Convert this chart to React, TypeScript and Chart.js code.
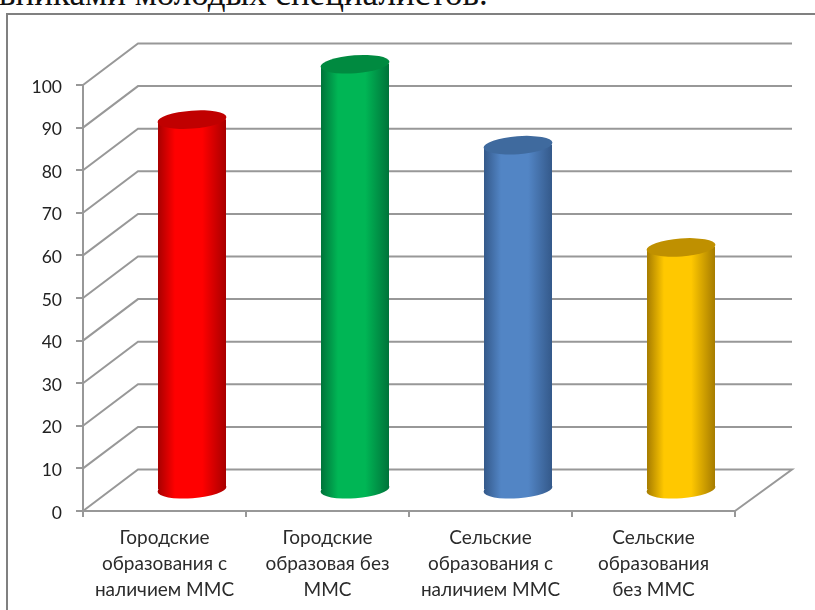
import React, { useEffect, useRef } from "react";
import { Chart, registerables } from "chart.js";

Chart.register(...registerables);

const categories = [
  ["Городские", "образования с", "наличием ММС"],
  ["Городские", "образовая без", "ММС"],
  ["Сельские", "образования с", "наличием ММС"],
  ["Сельские", "образования", "без ММС"],
];
const values = [87, 100, 81, 57];
const centerColors = ["#ff0000", "#00b655", "#5285c5", "#ffc800"];
const edgeColors = ["#a80000", "#00733a", "#34598a", "#a67c00"];
const capColors = ["#c00000", "#008a40", "#3f6a9e", "#bf9000"];
const headingText = "вниками молодых специалистов.";

const DEPTH_X = 55;
const DEPTH_X_RIGHT = 57;
const DEPTH_Y = 41.5;
const TILT = -0.075;
const RY = 9;
const GRID = "#989898";
const FONT = "Lato, Carlito, sans-serif";

function ellipse(ctx: CanvasRenderingContext2D, x: number, y: number, rx: number, fill: any) {
  ctx.beginPath();
  ctx.ellipse(x, y, rx, RY, TILT, 0, Math.PI * 2);
  ctx.fillStyle = fill;
  ctx.fill();
}

function barGradient(ctx: CanvasRenderingContext2D, x: number, w: number, i: number) {
  const g = ctx.createLinearGradient(x - w / 2, 0, x + w / 2, 0);
  g.addColorStop(0, edgeColors[i]);
  g.addColorStop(0.25, centerColors[i]);
  g.addColorStop(0.65, centerColors[i]);
  g.addColorStop(1, edgeColors[i]);
  return g;
}

const wall3d = {
  id: "wall3d",
  beforeDatasetsDraw(chart: any) {
    const { ctx, scales, chartArea } = chart;
    const y = scales.y;
    ctx.save();
    ctx.strokeStyle = GRID;
    ctx.lineWidth = 2;
    y.ticks.forEach((t: any, idx: number) => {
      const py = y.getPixelForValue(t.value);
      ctx.beginPath();
      ctx.moveTo(chartArea.left, py);
      ctx.lineTo(chartArea.left + DEPTH_X, py - DEPTH_Y);
      ctx.lineTo(chartArea.right + DEPTH_X_RIGHT, py - DEPTH_Y);
      if (idx === 0) ctx.lineTo(chartArea.right, py);
      ctx.stroke();
    });
    ctx.restore();

    // bars stand half-way into the floor
    const meta = chart.getDatasetMeta(0);
    ctx.save();
    ctx.translate(DEPTH_X / 2, -DEPTH_Y / 2);
    const dy = Math.tan(-TILT);
    meta.data.forEach((el: any, i: number) => {
      const w = el.width;
      ellipse(ctx, el.x, el.base, w / 2 + 0.5, barGradient(ctx, el.x, w, i));
    });
    ctx.beginPath();
    meta.data.forEach((el: any) => {
      const h = (el.width / 2) * dy;
      const l = el.x - el.width / 2;
      const r = el.x + el.width / 2;
      ctx.moveTo(l, el.y + h);
      ctx.lineTo(r, el.y - h);
      ctx.lineTo(r, el.base - h);
      ctx.lineTo(l, el.base + h);
      ctx.closePath();
    });
    ctx.clip();
  },
  afterDatasetsDraw(chart: any) {
    const { ctx } = chart;
    ctx.restore();
    const meta = chart.getDatasetMeta(0);
    ctx.save();
    ctx.translate(DEPTH_X / 2, -DEPTH_Y / 2);
    meta.data.forEach((el: any, i: number) => {
      ellipse(ctx, el.x, el.y, el.width / 2 + 0.5, capColors[i]);
    });
    ctx.restore();
  },
};

export default function App() {
  const ref = useRef<HTMLCanvasElement>(null);
  useEffect(() => {
    const chart = new Chart(ref.current!, {
      type: "bar",
      plugins: [wall3d],
      data: {
        labels: categories,
        datasets: [
          {
            data: values,
            barThickness: 68,
            borderWidth: 0,
            backgroundColor: (c: any) => {
              const ch = c.chart;
              if (!ch.chartArea || c.dataIndex === undefined) return centerColors[0];
              const x = ch.scales.x.getPixelForValue(c.dataIndex);
              return barGradient(ch.ctx, x, 68, c.dataIndex);
            },
          },
        ],
      },
      options: {
        responsive: false,
        animation: false,
        events: [],
        clip: false,
        layout: { padding: { left: 0, top: 85, right: 80, bottom: 0 } },
        plugins: { legend: { display: false }, tooltip: { enabled: false }, title: { display: false } },
        scales: {
          x: {
            offset: true,
            afterFit: (s: any) => {
              s.height = 99;
            },
            grid: { offset: true, drawOnChartArea: false, drawTicks: true, tickLength: 6, color: GRID, lineWidth: 2 },
            border: { color: GRID, width: 2 },
            ticks: { color: "#2b2b2b", font: { family: FONT, size: 19, lineHeight: 1.36 }, padding: 8, maxRotation: 0, autoSkip: false },
          },
          y: {
            min: 0,
            max: 100,
            afterFit: (s: any) => {
              s.width = 83;
            },
            grid: { drawOnChartArea: false, drawTicks: true, tickLength: 7, color: GRID, lineWidth: 2 },
            border: { color: GRID, width: 2 },
            ticks: { stepSize: 10, color: "#222222", font: { family: FONT, size: 17.5 }, padding: 14, labelOffset: 2 },
          },
        },
      },
    } as any);
    return () => chart.destroy();
  }, []);
  return (
    <div style={{ position: "fixed", left: 0, top: 0, width: 815, height: 610, overflow: "hidden", background: "#fff" }}>
      <div
        style={{
          position: "absolute",
          left: -1,
          top: -26,
          font: "35px 'Liberation Serif', serif",
          whiteSpace: "nowrap",
          color: "#111",
        }}
      >
        {headingText}
      </div>
      <div
        style={{
          position: "absolute",
          left: 6,
          top: 13,
          width: 815,
          height: 640,
          border: "2px solid #808080",
          boxSizing: "border-box",
        }}
      />
      <canvas ref={ref} width={815} height={610} style={{ position: "absolute", left: 0, top: 0 }} />
    </div>
  );
}
